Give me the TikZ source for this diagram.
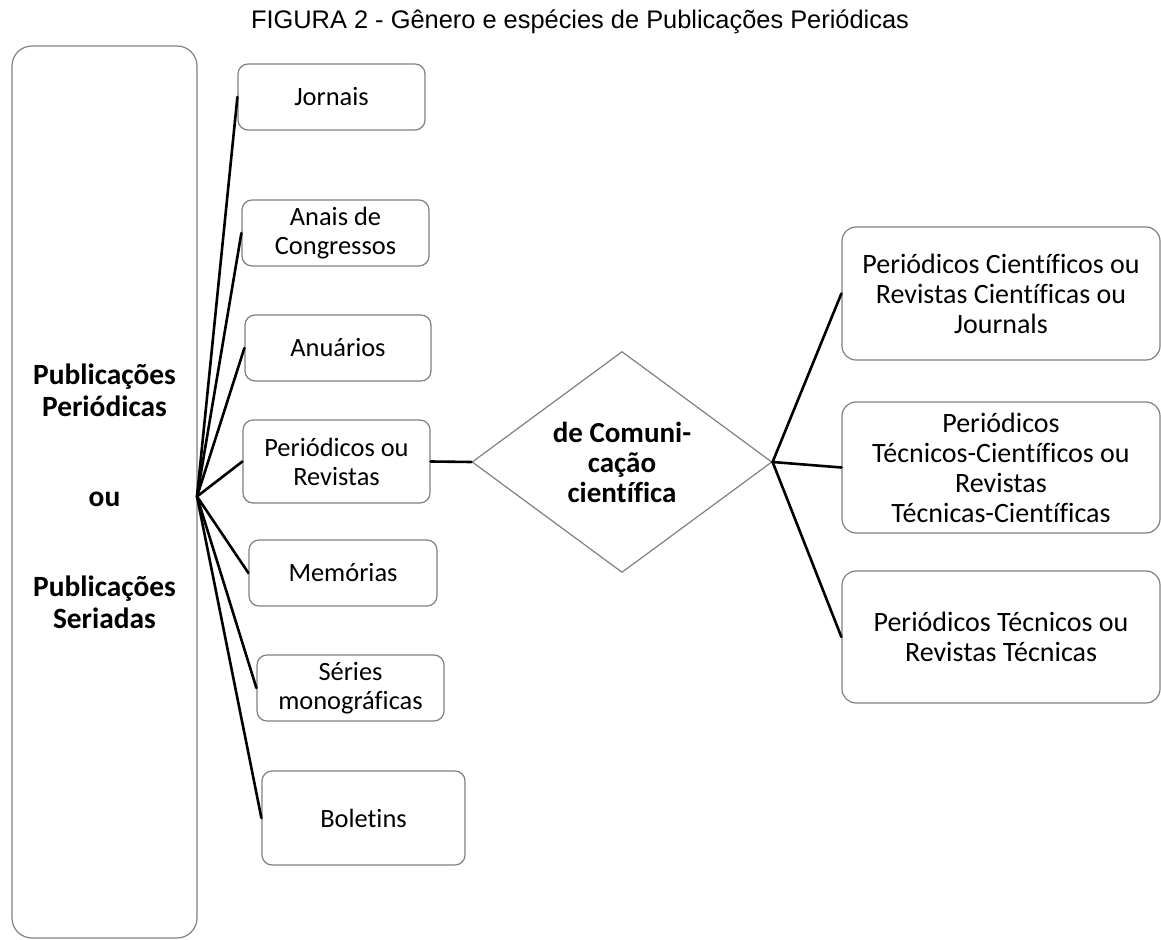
\documentclass[tikz,border=0pt]{standalone}
\usepackage{fontspec}
\setmainfont{Carlito}[Ligatures={TeX,NoCommon}]
\newfontfamily\titlefont{Liberation Sans}
\usepackage{tikz}
\usetikzlibrary{shapes.geometric}
\definecolor{ink}{HTML}{000000}
\definecolor{frame}{HTML}{808080}
\tikzset{
  link/.style={draw=ink, line width=1.3pt, line cap=round},
  box/.style={
    draw=frame,
    line width=0.6pt,
    rounded corners=5pt,
    align=center,
    inner sep=0pt,
    font=\fontsize{13.2}{14.5}\selectfont
  },
  widebox/.style={box, rounded corners=7pt, font=\fontsize{14}{15}\selectfont},
  bigbox/.style={box, rounded corners=10pt},
  bigtext/.style={align=center, inner sep=0pt, font=\bfseries\fontsize{14.7}{16}\selectfont},
  rombo/.style={
    diamond,
    draw=frame,
    line width=0.6pt,
    aspect=1.36,
    inner sep=0pt,
    minimum width=150pt,
    minimum height=110.5pt,
    align=center,
    font=\bfseries\fontsize{14.5}{15}\selectfont
  },
  caption/.style={inner sep=0pt, font=\titlefont\fontsize{12.7}{14}\selectfont}
}
\begin{document}
\begin{tikzpicture}[x=0.5pt, y=-0.5pt]
  \useasboundingbox (0,0) rectangle (1161,940);
  \node[caption] (titulo) at (580,22) {FIGURA 2 - Gênero e espécies de Publicações Periódicas};

  % gênero, a coluna da esquerda
  \node[bigbox, minimum width=92.5pt, minimum height=446pt] (big) at (104.5,492) {};
  \node[bigtext] (bigtxt) at (104.5,496.5) {Publicações\\Periódicas\\[29pt]ou\\[29pt]Publicações\\Seriadas};
  \coordinate (hub) at (197,496.5);

  \node[box, minimum width=93.5pt, minimum height=33pt] (jornais) at (331.5,97) {Jornais};
  \node[box, minimum width=93.5pt, minimum height=33pt] (anais) at (335.5,233) {Anais de\\Congressos};
  \node[box, minimum width=93pt, minimum height=33pt] (anuarios) at (338,348) {Anuários};
  \node[box, minimum width=93.5pt, minimum height=41.5pt] (periodicos) at (336.5,461.5) {Periódicos ou\\Revistas};
  \node[box, minimum width=94pt, minimum height=33pt] (memorias) at (343,573) {Memórias};
  \node[box, minimum width=93.5pt, minimum height=33pt] (series) at (350.5,688) {Séries\\monográficas};
  \node[box, minimum width=101.5pt, minimum height=47pt] (boletins) at (363.5,818) {Boletins};

  \node[rombo] (comunicacao) at (622,462) {de Comuni-\\cação\\científica};

  \node[widebox, minimum width=159pt, minimum height=66.5pt] (cientificos) at (1001,293.5) {Periódicos Científicos ou\\Revistas Científicas ou\\Journals};
  \node[widebox, minimum width=159pt, minimum height=65.5pt] (tecnicocient) at (1001,467.5) {Periódicos\\Técnicos-Científicos ou\\Revistas\\Técnicas-Científicas};
  \node[widebox, minimum width=159pt, minimum height=66pt] (tecnicos) at (1001,637) {Periódicos Técnicos ou\\Revistas Técnicas};

  \foreach \n in {jornais,anais,anuarios,periodicos,memorias,series,boletins}
    \draw[link] (hub) -- (\n.west);
  \draw[link] (periodicos.east) -- (comunicacao.west);
  \foreach \n in {cientificos,tecnicocient,tecnicos}
    \draw[link] (comunicacao.east) -- (\n.west);
\end{tikzpicture}
\end{document}
